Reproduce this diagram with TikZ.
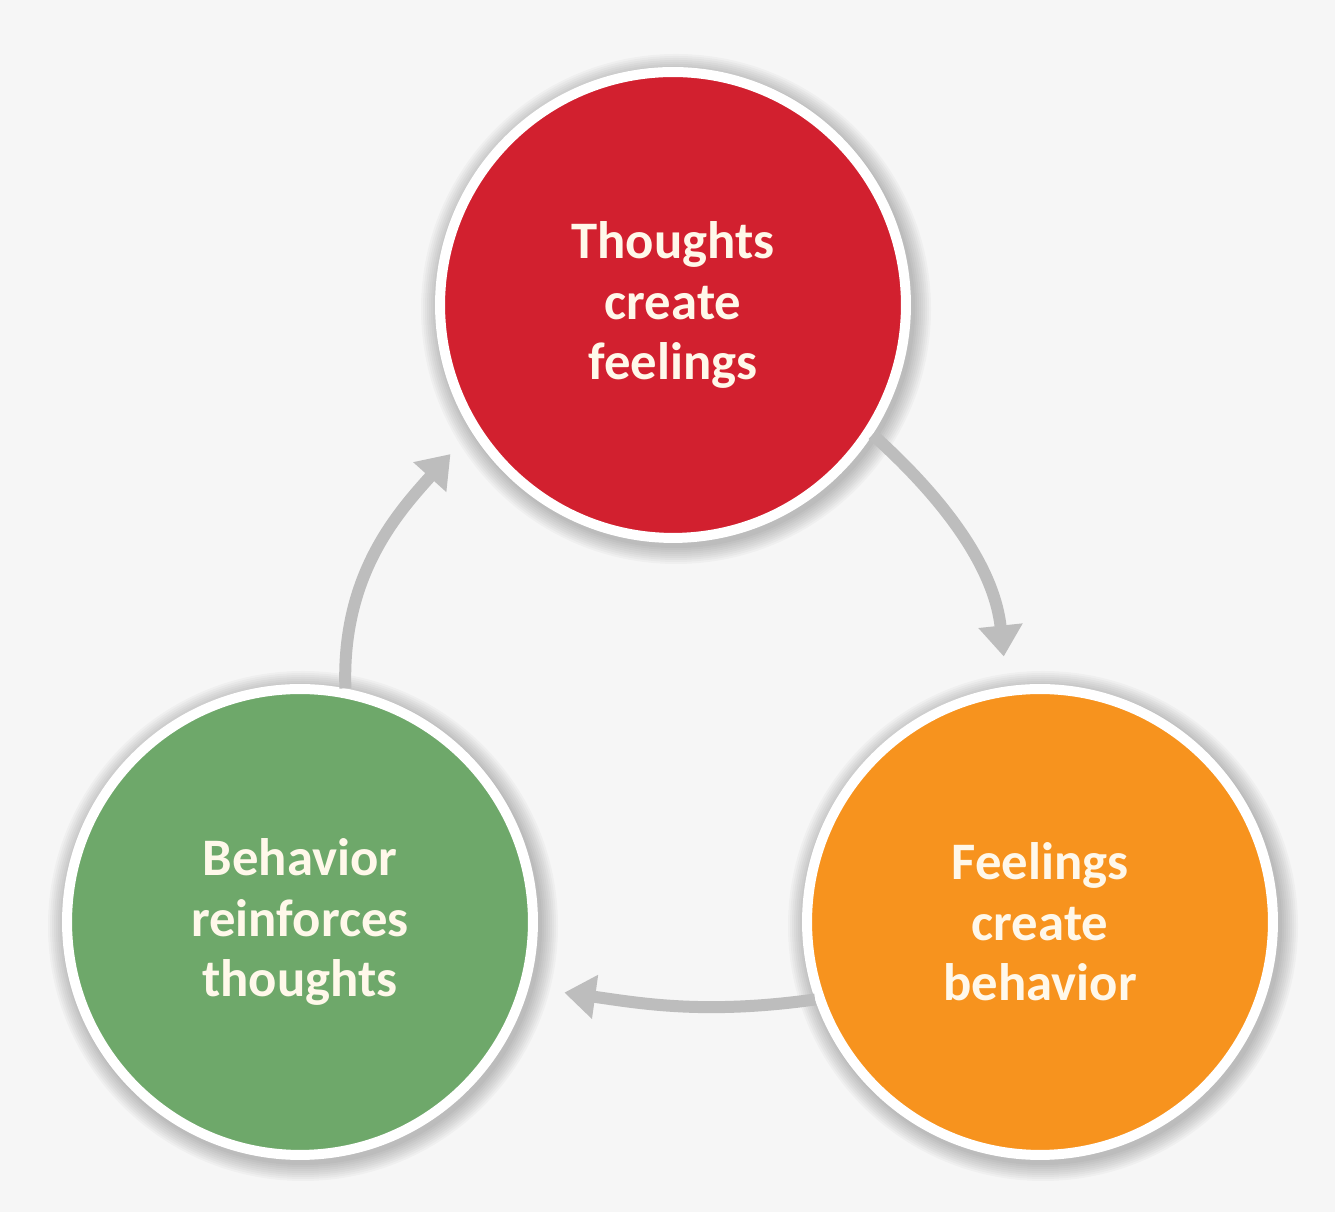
\documentclass[tikz,border=0pt]{standalone}
\usepackage{fontspec}
\setmainfont{Carlito}
\usetikzlibrary{arrows.meta}
\definecolor{bgc}{HTML}{F6F6F6}
\definecolor{redc}{HTML}{D2202F}
\definecolor{orangec}{HTML}{F7931E}
\definecolor{greenc}{HTML}{6EA86A}
\definecolor{arrc}{HTML}{BDBDBD}
\definecolor{txtc}{HTML}{FFF8EA}
\begin{document}
\begin{tikzpicture}[x=0.02cm,y=0.02cm,
  bubble/.style={circle, draw=white, line width=0.2cm, minimum size=9.32cm, inner sep=0pt,
    text=txtc, align=center, font=\fontsize{30}{34.5}\selectfont\bfseries},
  cyclearrow/.style={draw=arrc, line width=0.24cm,
    -{Triangle[length=0.62cm,width=0.85cm]}}]
\fill[bgc] (0,0) rectangle (1335,1212);
\useasboundingbox (0,0) rectangle (1335,1212);
\coordinate (cR) at (673,907);
\coordinate (cO) at (1040,290);
\coordinate (cG) at (300,290);
% soft shadows
\foreach \c in {cR,cO,cG}{
  \foreach \i in {1,...,9}{
    \fill[black, opacity=0.028] ([shift={(3,-4)}]\c) circle[radius={(237+2*\i)*0.02cm}];
  }
}
\node[bubble, fill=redc] (red) at (cR) {Thoughts\\create\\feelings};
\node[bubble, fill=orangec] (orange) at (cO) {Feelings\\create\\behavior};
\node[bubble, fill=greenc] (green) at (cG) {Behavior\\reinforces\\thoughts};
\draw[cyclearrow, shorten >=0.6cm] (red.-33) to[out=-42, in=96] (orange.98);
\draw[cyclearrow, shorten >=0.72cm] (orange.199) to[out=188, in=-8] (green.-16);
\draw[cyclearrow, shorten >=0.62cm] (green.79) to[out=92, in=228] (red.212);
\end{tikzpicture}
\end{document}
